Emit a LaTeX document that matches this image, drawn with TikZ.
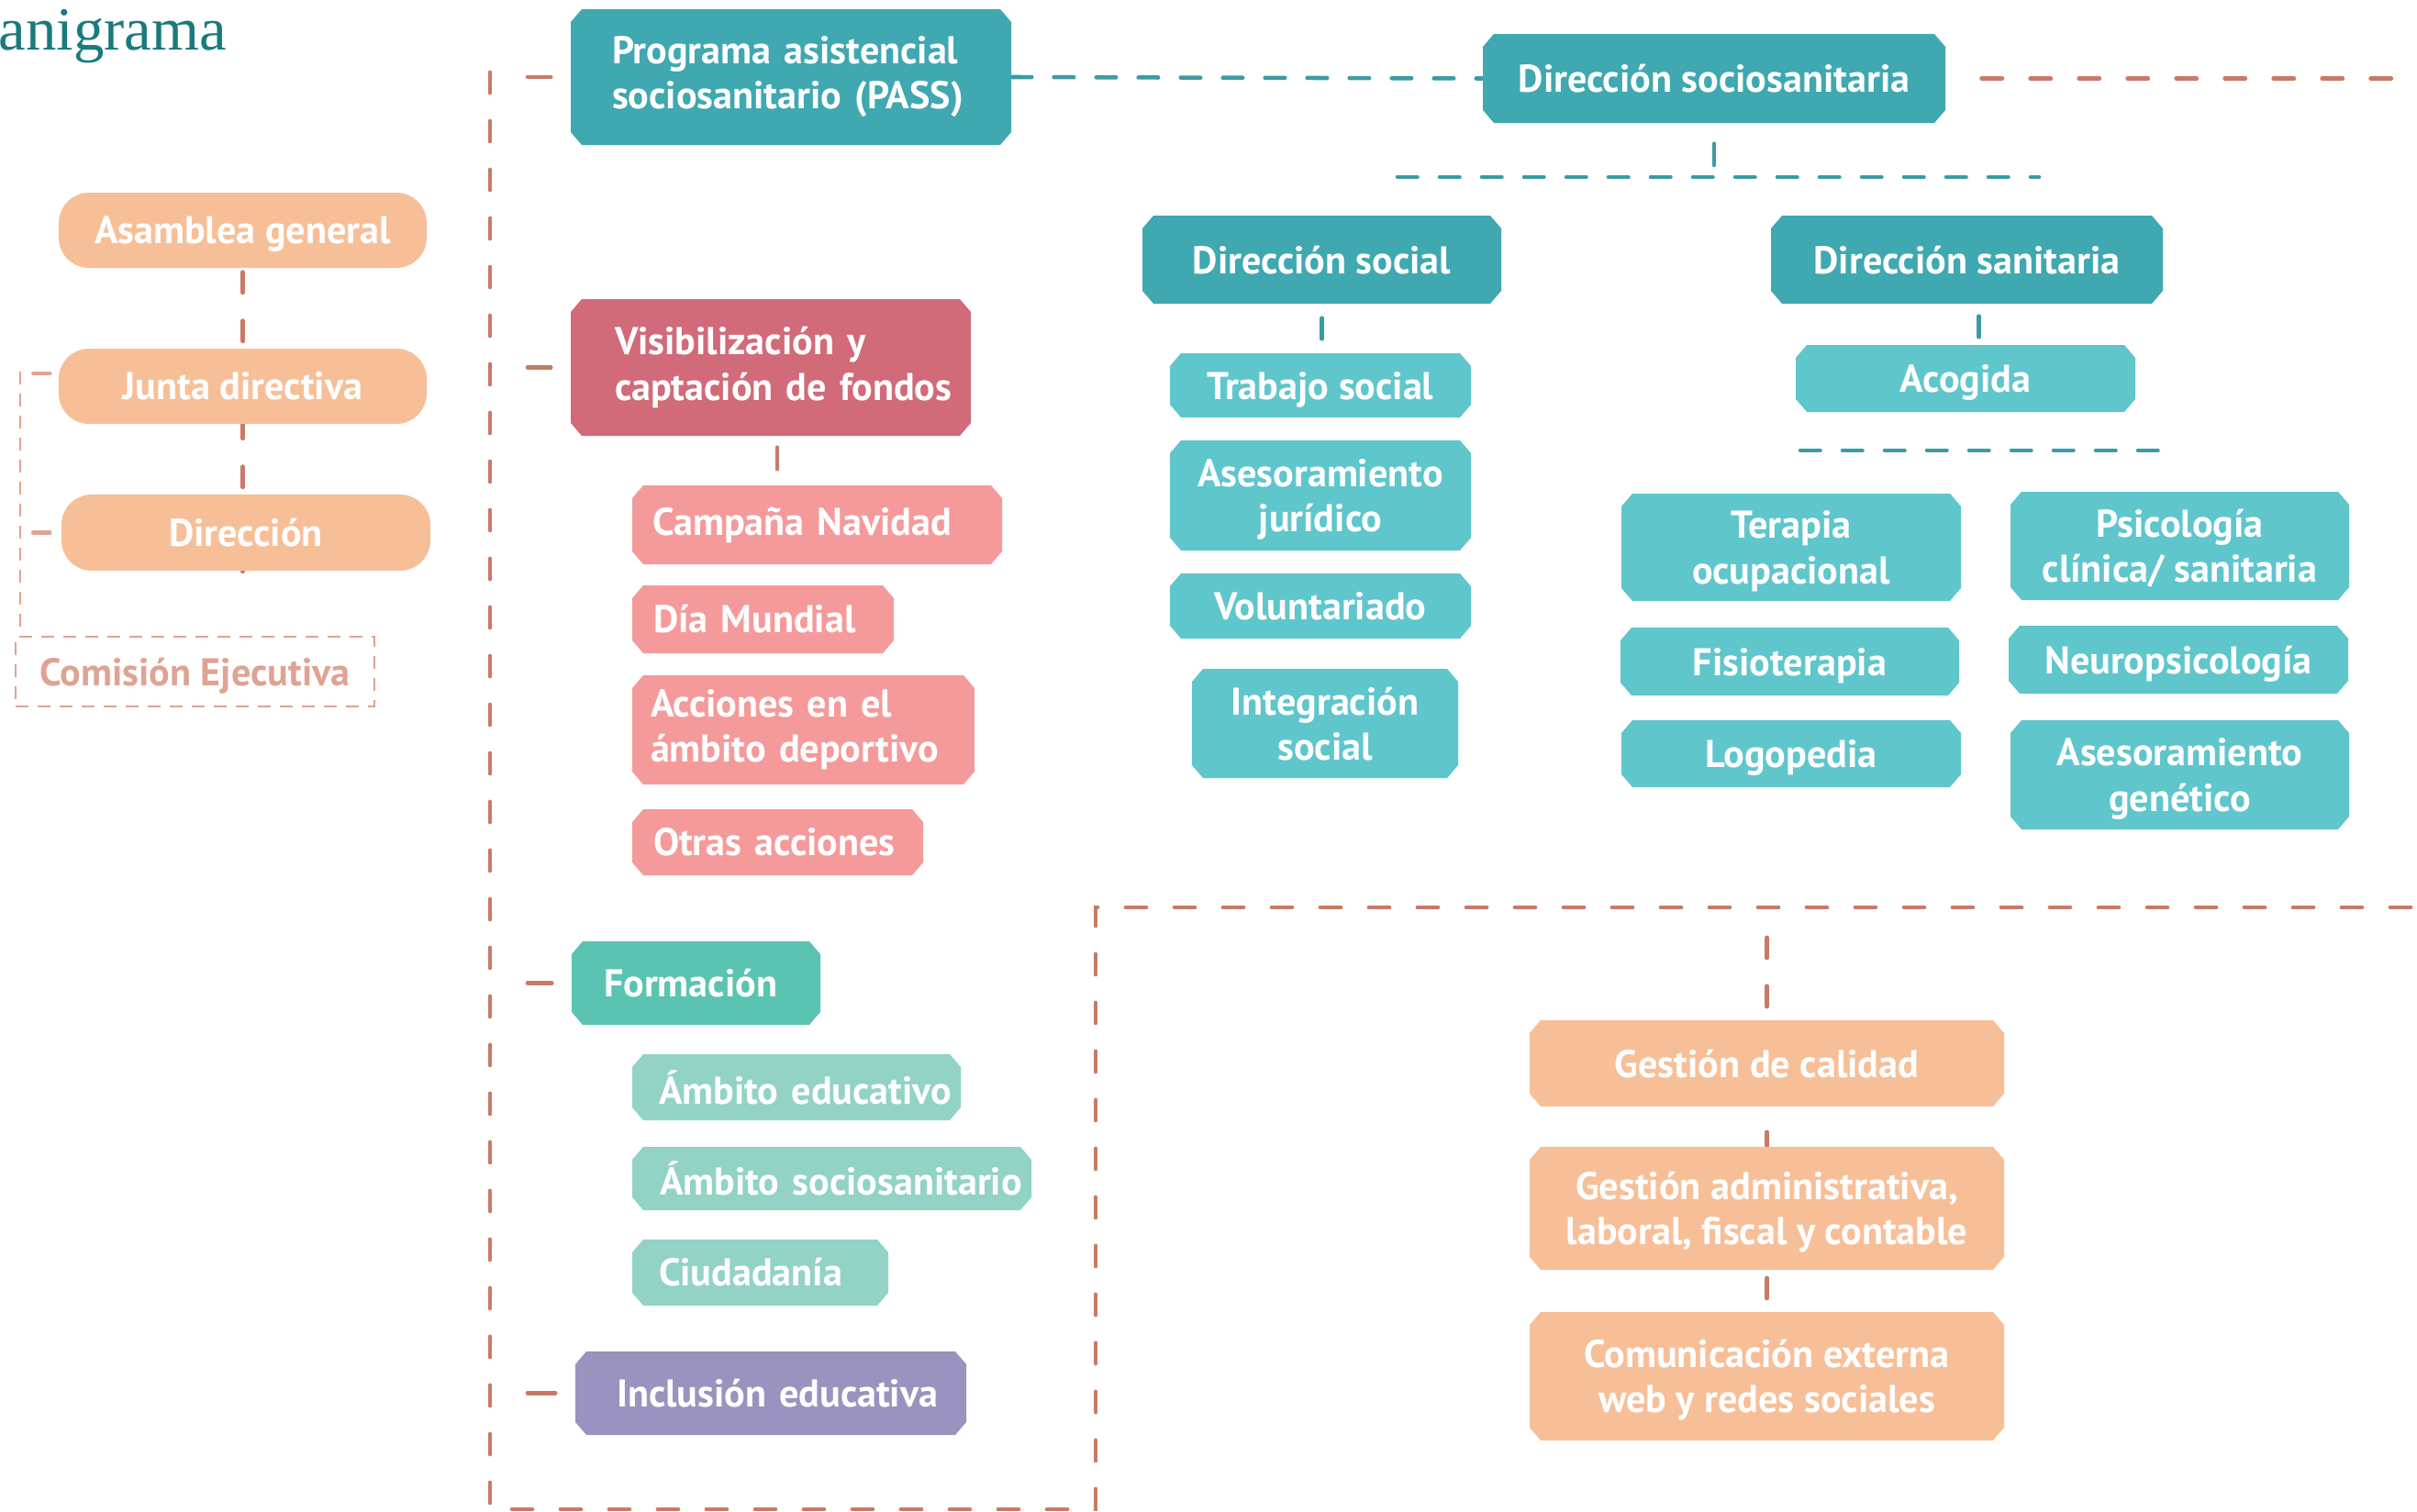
\documentclass[tikz,border=0pt]{standalone}
\usepackage{fontspec}
\setmainfont{PT Sans}
\newfontfamily\titlefont{Liberation Serif}
\usetikzlibrary{backgrounds}

\definecolor{tealosc}{HTML}{3FA8B1}
\definecolor{tealcla}{HTML}{5FC6CC}
\definecolor{tealinea}{HTML}{3A9CA3}
\definecolor{salmon}{HTML}{C97A66}
\definecolor{rosaosc}{HTML}{D16B79}
\definecolor{rosacla}{HTML}{F59A9B}
\definecolor{verdeosc}{HTML}{5BC3B1}
\definecolor{verdecla}{HTML}{92D3C6}
\definecolor{lila}{HTML}{9A93BF}
\definecolor{naranja}{HTML}{F7BF98}
\definecolor{comision}{HTML}{DFA393}
\definecolor{verdetitulo}{HTML}{1A7A7C}

\newcommand{\cfx}{0.12cm}
\newcommand{\cfy}{0.14cm}

\tikzset{
  texto/.style={font=\bfseries\fontsize{12}{14}\selectfont, text=white},
  caja/.style={texto, rectangle, inner sep=0pt, align=center,
    path picture={
      \fill[#1] ([xshift=\cfx]path picture bounding box.north west)
        -- ([xshift=-\cfx]path picture bounding box.north east)
        -- ([yshift=-\cfy]path picture bounding box.north east)
        -- ([yshift=\cfy]path picture bounding box.south east)
        -- ([xshift=-\cfx]path picture bounding box.south east)
        -- ([xshift=\cfx]path picture bounding box.south west)
        -- ([yshift=\cfy]path picture bounding box.south west)
        -- ([yshift=-\cfy]path picture bounding box.north west) -- cycle;}},
  pastilla/.style={texto, rectangle, fill=naranja, rounded corners=0.33cm, inner sep=0pt, text depth=0pt},
  tam/.style 2 args={minimum width=#1cm, minimum height=#2cm, text depth=0pt},
  % caja con texto a la izquierda: ancho, alto, sangria
  tamizq/.style n args={3}{minimum width=#1cm, minimum height=#2cm, text width=#1cm,
    align=left, execute at begin node={\leftskip=#3cm}},
  marco/.style={draw=salmon, line width=1.4pt, line cap=round, dash pattern=on 0.22cm off 0.31cm},
  tealdash/.style={draw=tealinea, line width=1.3pt, line cap=round, dash pattern=on 0.215cm off 0.245cm},
  comdash/.style={draw=comision, line width=0.8pt, dash pattern=on 0.14cm off 0.1cm},
  rayita/.style={line width=1.3pt, line cap=round},
}

\begin{document}
\begin{tikzpicture}[y=-1cm]
  \useasboundingbox (0,0) rectangle (26.34,16.48);

  \node[anchor=base west, inner sep=0pt, text=verdetitulo,
        font=\titlefont\fontsize{19}{21}\selectfont] (titulo) at (-0.02,0.54) {anigrama};

  % organos de gobierno
  \node[pastilla, tam={4.01}{0.82}] (asamblea) at (2.645,2.51) {Asamblea general};
  \node[pastilla, tam={4.01}{0.82}] (junta) at (2.645,4.21) {Junta directiva};
  \node[pastilla, tam={4.02}{0.83}] (direccion) at (2.68,5.805) {Dirección};
  \node[texto, text=comision, comdash, inner sep=0pt, tam={3.91}{0.76}] (comision) at (2.125,7.32) {Comisión Ejecutiva};

  % programas
  \node[caja=tealosc, tamizq={4.80}{1.48}{0.45}] (pass) at (8.62,0.84) {Programa asistencial\\sociosanitario (PASS)};
  \node[caja=rosaosc, tamizq={4.36}{1.49}{0.48}] (visib) at (8.40,4.005) {Visibilización y\\captación de fondos};
  \node[caja=rosacla, tamizq={4.03}{0.86}{0.22}] (campana) at (8.905,5.72) {Campaña Navidad};
  \node[caja=rosacla, tamizq={2.85}{0.74}{0.23}] (dia) at (8.315,6.75) {Día Mundial};
  \node[caja=rosacla, tamizq={3.73}{1.19}{0.20}] (acciones) at (8.755,7.955) {Acciones en el\\ámbito deportivo};
  \node[caja=rosacla, tamizq={3.17}{0.72}{0.23}] (otras) at (8.475,9.18) {Otras acciones};

  \node[caja=verdeosc, tamizq={2.71}{0.91}{0.35}] (formacion) at (7.585,10.715) {Formación};
  \node[caja=verdecla, tamizq={3.58}{0.72}{0.29}] (ambedu) at (8.68,11.85) {Ámbito educativo};
  \node[caja=verdecla, tamizq={4.35}{0.69}{0.30}] (ambsoc) at (9.065,12.845) {Ámbito sociosanitario};
  \node[caja=verdecla, tamizq={2.79}{0.72}{0.29}] (ciudad) at (8.285,13.87) {Ciudadanía};
  \node[caja=lila, tamizq={4.26}{0.91}{0.45}] (inclusion) at (8.40,15.185) {Inclusión educativa};

  % direccion sociosanitaria
  \node[caja=tealosc, tam={5.04}{0.97}] (dss) at (18.68,0.855) {Dirección sociosanitaria};
  \node[caja=tealosc, tam={3.91}{0.96}] (dsocial) at (14.405,2.83) {Dirección social};
  \node[caja=tealosc, tam={4.27}{0.96}] (dsan) at (21.435,2.83) {Dirección sanitaria};

  \node[caja=tealcla, tam={3.28}{0.70}] (trabajo) at (14.39,4.20) {Trabajo social};
  \node[caja=tealcla, tam={3.28}{1.20}] (asesjur) at (14.39,5.40) {Asesoramiento\\jurídico};
  \node[caja=tealcla, tam={3.28}{0.71}] (volunt) at (14.39,6.605) {Voluntariado};
  \node[caja=tealcla, tam={2.90}{1.19}] (integ) at (14.44,7.885) {Integración\\social};

  \node[caja=tealcla, tam={3.70}{0.73}] (acogida) at (21.42,4.125) {Acogida};
  \node[caja=tealcla, tam={3.70}{1.17}] (terapia) at (19.52,5.965) {Terapia\\ocupacional};
  \node[caja=tealcla, tam={3.69}{1.18}] (psico) at (23.755,5.95) {Psicología\\clínica/ sanitaria};
  \node[caja=tealcla, tam={3.69}{0.74}] (fisio) at (19.505,7.21) {Fisioterapia};
  \node[caja=tealcla, tam={3.70}{0.74}] (neuro) at (23.74,7.19) {Neuropsicología};
  \node[caja=tealcla, tam={3.70}{0.73}] (logo) at (19.52,8.215) {Logopedia};
  \node[caja=tealcla, tam={3.69}{1.19}] (asesgen) at (23.755,8.445) {Asesoramiento\\genético};

  % gestion
  \node[caja=naranja, tam={5.17}{0.94}] (gcal) at (19.255,11.59) {Gestión de calidad};
  \node[caja=naranja, tam={5.17}{1.34}] (gadm) at (19.255,13.17) {Gestión administrativa,\\laboral, fiscal y contable};
  \node[caja=naranja, tam={5.17}{1.40}] (gcom) at (19.255,15.00) {Comunicación externa\\web y redes sociales};

  \coordinate (m1) at (5.34,0.79);
  \coordinate (m2) at (5.34,16.45);
  \coordinate (m3) at (11.94,16.45);
  \coordinate (m4) at (11.94,9.89);
  \coordinate (m5) at (26.34,9.89);
  \coordinate (m6) at (26.34,0.855);
  \coordinate (b1) at (15.23,1.93);
  \coordinate (b2) at (22.22,1.93);
  \coordinate (b3) at (19.62,4.91);
  \coordinate (b4) at (23.60,4.91);
  \coordinate (cjt) at (0.22,4.05);

  \begin{scope}[on background layer]
    \draw[marco, shorten <=0.04cm] (asamblea.south) -- (asamblea.south |- direccion.south);
    \draw[comdash] (cjt) -- (cjt |- comision.north);
    \draw[rayita, comision] ([xshift=-0.09cm,yshift=0.14cm]junta.west) -- ++(-0.18,0);
    \draw[rayita, comision] ([xshift=-0.12cm]direccion.west) -- ++(-0.18,0);

    \draw[marco] (m1) -- (m2) -- (m3) -- (m4) -- (m5);
    \draw[marco, shorten <=0.39cm] (dss.east) -- (m6);
    \foreach \n in {pass,visib,formacion,inclusion}
      \draw[rayita, salmon, shorten <=0.41cm, shorten >=0.21cm] (\n.west -| m1) -- (\n.west);
    \draw[rayita, salmon, shorten <=0.12cm, shorten >=0.17cm] ([xshift=0.07cm]visib.south) -- ([xshift=0.07cm]visib.south |- campana.north);
    \draw[marco, shorten <=0.33cm] (gcal.north |- m4) -- (gcom.north);

    \draw[tealdash] (pass.east) -- (dss.west);
    \draw[tealdash] (b1) -- (b2);
    \draw[tealdash] (b3) -- (b4);
    \draw[rayita, tealinea, shorten <=0.22cm, shorten >=0.13cm] (dss.south) -- (dss.south |- b1);
    \draw[rayita, tealinea, shorten <=0.15cm, shorten >=0.15cm] (dsocial.south) -- (dsocial.south |- trabajo.north);
    \draw[rayita, tealinea, shorten <=0.13cm, shorten >=0.08cm] ([xshift=0.13cm]dsan.south) -- ([xshift=0.13cm]dsan.south |- acogida.north);
  \end{scope}
\end{tikzpicture}
\end{document}
